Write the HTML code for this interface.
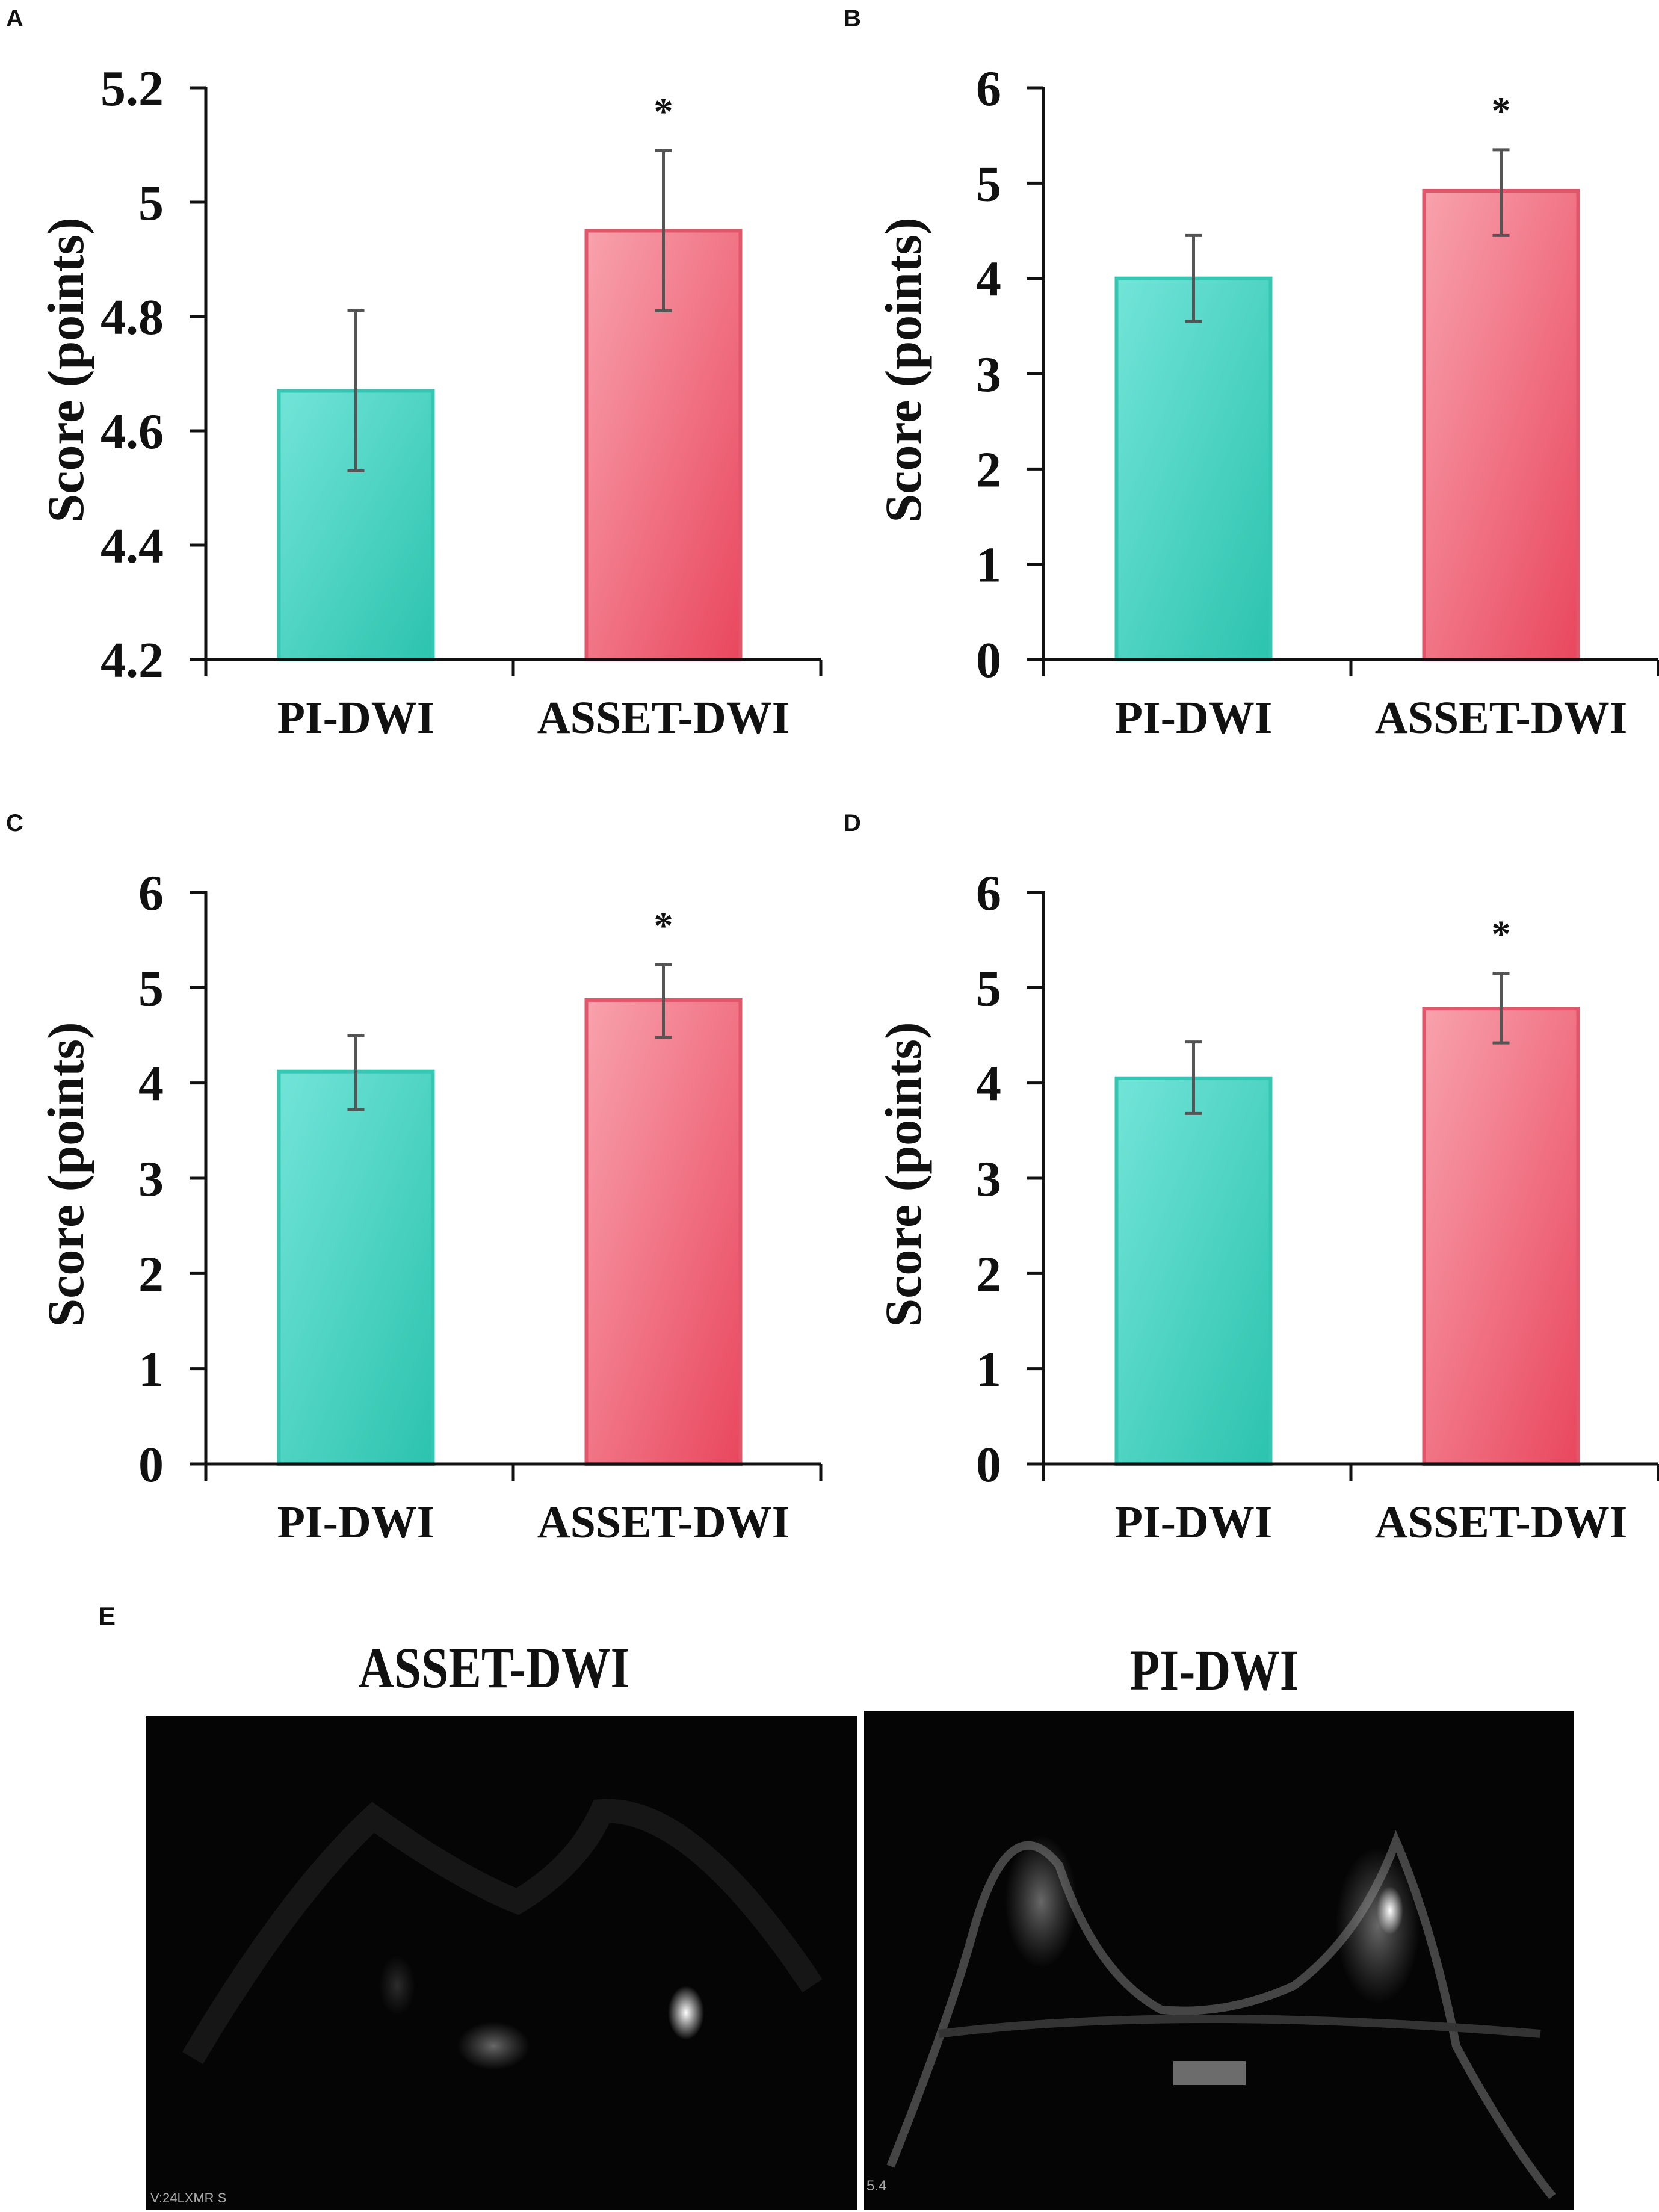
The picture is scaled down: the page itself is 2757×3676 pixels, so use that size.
<!DOCTYPE html>
<html><head><meta charset="utf-8"><style>
html,body{margin:0;padding:0;background:#fff}
svg{display:block}
text{font-family:"Liberation Serif",serif;font-weight:bold;fill:#111}
</style></head><body>
<svg id="fig" xmlns="http://www.w3.org/2000/svg" width="2757" height="3676" viewBox="0 0 2757 3676">
<defs>
<linearGradient id="gTeal" x1="0" y1="0" x2="1" y2="1"><stop offset="0" stop-color="#72e4d8"/><stop offset="1" stop-color="#2cc3ae"/></linearGradient>
<linearGradient id="gPink" x1="0" y1="0" x2="1" y2="1"><stop offset="0" stop-color="#f8a2ad"/><stop offset="1" stop-color="#e9475e"/></linearGradient>
<radialGradient id="blob"><stop offset="0" stop-color="#fff" stop-opacity="1"/><stop offset="1" stop-color="#fff" stop-opacity="0"/></radialGradient>
<radialGradient id="blobDim"><stop offset="0" stop-color="#aaa" stop-opacity="0.6"/><stop offset="1" stop-color="#888" stop-opacity="0"/></radialGradient>
</defs>
<g id="charts"></g>
<g>
<text x="164" y="2700" style="font-family:'Liberation Sans',sans-serif;font-size:42px">E</text>
<text x="821" y="2804" text-anchor="middle" style="font-size:96px" transform="translate(821 0) scale(0.85 1) translate(-821 0)">ASSET-DWI</text>
<text x="2018" y="2808" text-anchor="middle" style="font-size:96px" transform="translate(2018 0) scale(0.85 1) translate(-2018 0)">PI-DWI</text>
<g>
<rect x="242" y="2851" width="1182" height="821" fill="#050505"/>
<path d="M320 3420 Q480 3150 620 3020 Q760 3120 860 3160 Q960 3100 1000 3010 Q1150 3000 1350 3300" fill="none" stroke="#222" stroke-width="40" opacity="0.6"/>
<ellipse cx="1140" cy="3345" rx="30" ry="45" fill="url(#blob)"/>
<ellipse cx="820" cy="3400" rx="60" ry="40" fill="url(#blobDim)"/>
<ellipse cx="660" cy="3300" rx="30" ry="50" fill="url(#blobDim)" opacity="0.4"/>
<text x="250" y="3660" style="font-family:'Liberation Sans',sans-serif;font-size:22px;font-weight:normal;fill:#aaa">V:24LXMR S</text>
</g>
<g>
<rect x="1436" y="2844" width="1180" height="828" fill="#050505"/>
<path d="M1480 3600 Q1580 3350 1620 3200 Q1680 3000 1760 3100 Q1820 3280 1930 3340 Q2040 3350 2150 3300 Q2260 3220 2320 3060 Q2380 3200 2420 3400 Q2500 3550 2580 3650" fill="none" stroke="#555" stroke-width="14" opacity="0.8"/>
<ellipse cx="1730" cy="3160" rx="60" ry="110" fill="url(#blobDim)"/>
<ellipse cx="2290" cy="3200" rx="70" ry="130" fill="url(#blobDim)"/>
<ellipse cx="2310" cy="3175" rx="22" ry="40" fill="url(#blob)"/>
<rect x="1950" y="3425" width="120" height="40" fill="#999" opacity="0.7"/>
<path d="M1560 3380 Q1960 3330 2560 3380" fill="none" stroke="#333" stroke-width="14"/>
<text x="1440" y="3640" style="font-family:'Liberation Sans',sans-serif;font-size:24px;font-weight:normal;fill:#aaa">5.4</text>
</g>
</g>
</svg>
<script>
const categories = ["PI-DWI", "ASSET-DWI"];
const panelLabels = ["A", "B", "C", "D"];
const meansA = [4.67, 4.95];
const errLowA = [4.53, 4.81];
const errHighA = [4.81, 5.09];
const meansB = [4.0, 4.92];
const errLowB = [3.55, 4.45];
const errHighB = [4.45, 5.35];
const meansC = [4.12, 4.87];
const errLowC = [3.72, 4.48];
const errHighC = [4.5, 5.24];
const meansD = [4.05, 4.78];
const errLowD = [3.68, 4.42];
const errHighD = [4.43, 5.15];
const ticksA = ["4.2", "4.4", "4.6", "4.8", "5", "5.2"];
const ticksBCD = ["0", "1", "2", "3", "4", "5", "6"];
const significant = [false, true];

const NS = "http://www.w3.org/2000/svg";
const root = document.getElementById("charts");
function mk(tag, attrs, parent) {
  const e = document.createElementNS(NS, tag);
  for (const k in attrs) e.setAttribute(k, attrs[k]);
  parent.appendChild(e);
  return e;
}
const panels = [
  {label: panelLabels[0], dx: 0, dy: 0, means: meansA, lo: errLowA, hi: errHighA, ticks: ticksA},
  {label: panelLabels[1], dx: 1392, dy: 0, means: meansB, lo: errLowB, hi: errHighB, ticks: ticksBCD},
  {label: panelLabels[2], dx: 0, dy: 1337, means: meansC, lo: errLowC, hi: errHighC, ticks: ticksBCD},
  {label: panelLabels[3], dx: 1392, dy: 1337, means: meansD, lo: errLowD, hi: errHighD, ticks: ticksBCD}
];
panels.forEach(function (p, pi) {
  const g = mk("g", {transform: "translate(" + p.dx + " " + p.dy + ")"}, root);
  
  
  const x0 = 342, x1 = 1364, yTop = 146, yBot = 1096;
  const tmin = parseFloat(p.ticks[0]), tmax = parseFloat(p.ticks[p.ticks.length - 1]);
  const y = v => yBot - (v - tmin) / (tmax - tmin) * (yBot - yTop);
  const bandW = (x1 - x0) / categories.length;
  const xc = i => x0 + bandW * (i + 0.5);
  const barW = 256;

  const pl = mk("text", {x: 10, y: 44, style: "font-family:'Liberation Sans',sans-serif;font-size:40px"}, g);
  pl.textContent = p.label;
  
  

  categories.forEach(function (c, i) {
    const top = y(p.means[i]);
    const bar = mk("rect", {x: xc(i) - barW / 2 - 6, y: top, width: barW, height: yBot - top,
      fill: i === 0 ? "url(#gTeal)" : "url(#gPink)", stroke: i === 0 ? "#35c7b3" : "#e2566b", "stroke-width": 6}, g);
    
    
    const eg = mk("g", {stroke: "#555", "stroke-width": 5, fill: "none"}, g);
    
    
    const ex = xc(i) - 6;
    mk("line", {x1: ex, x2: ex, y1: y(p.lo[i]), y2: y(p.hi[i])}, eg);
    mk("line", {x1: ex - 14, x2: ex + 14, y1: y(p.lo[i]), y2: y(p.lo[i])}, eg);
    mk("line", {x1: ex - 14, x2: ex + 14, y1: y(p.hi[i]), y2: y(p.hi[i])}, eg);
    if (significant[i]) {
      const s = mk("text", {x: ex, y: y(p.hi[i]) - 44, "text-anchor": "middle", style: "font-size:64px"}, g);
      s.textContent = "*";
      
      
    }
    const xl = mk("text", {x: xc(i) - 6, y: 1218, "text-anchor": "middle", style: "font-size:76px"}, g);
    xl.textContent = c;
    
    
  });

  const ax = mk("g", {stroke: "#111", "stroke-width": 5, fill: "none"}, g);
  
  
  mk("line", {x1: x0, x2: x0, y1: yTop - 2, y2: 1124}, ax);
  mk("line", {x1: x0 - 27, x2: x1, y1: yBot, y2: yBot}, ax);
  for (let k = 0; k <= categories.length; k++) {
    const tx = x0 + bandW * k;
    mk("line", {x1: tx, x2: tx, y1: yBot, y2: 1124}, ax);
  }
  p.ticks.forEach(function (t) {
    const v = parseFloat(t);
    mk("line", {x1: x0 - 27, x2: x0, y1: y(v), y2: y(v)}, ax);
    const tl = mk("text", {x: x0 - 70, y: y(v) + 29, "text-anchor": "end", style: "font-size:84px"}, g);
    tl.textContent = t;
    
    
  });
  const yt = mk("text", {x: 0, y: 0, "text-anchor": "middle", transform: "translate(138 615) rotate(-90)", style: "font-size:86px"}, g);
  yt.textContent = "Score (points)";
  
  
});
</script>
</body></html>
